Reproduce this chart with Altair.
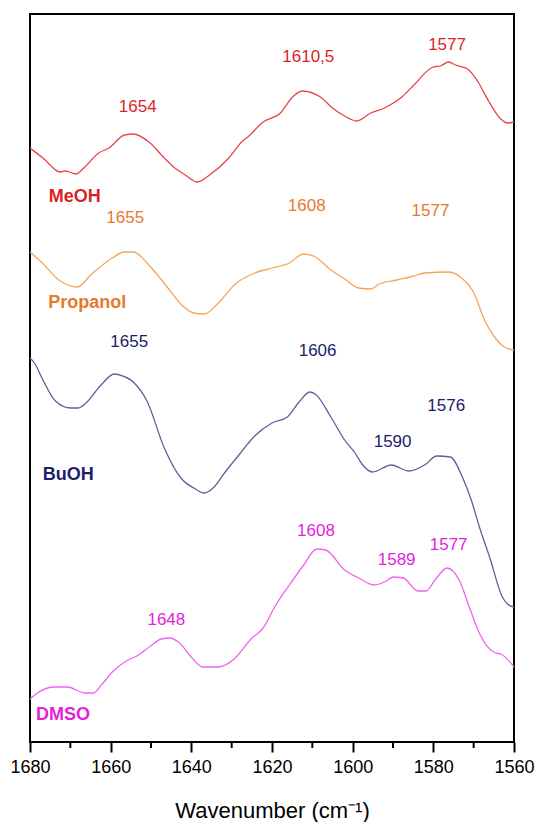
import altair as alt
import pandas as pd

# ---- data (wavenumber cm-1, intensity a.u. with offsets) ----
meoh_w = [1680, 1676.8, 1672.5, 1671.2, 1668.6, 1666.4, 1663.0, 1660.4, 1656.6, 1654.4,
          1650.5, 1646.7, 1644.1, 1641.5, 1638.5, 1635.5, 1630.7, 1627.3, 1626.0, 1622.2,
          1617.9, 1614.9, 1612.5, 1608.0, 1605.0, 1602.0, 1599.0, 1595.5, 1592.1, 1587.8,
          1584.8, 1580.0, 1578.3, 1576.2, 1574.5, 1571.5, 1568.9, 1566.3, 1563.3, 1561.6, 1560]
meoh_i = [5.94, 5.84, 5.70, 5.71, 5.68, 5.75, 5.89, 5.94, 6.07, 6.08,
          6.00, 5.84, 5.74, 5.67, 5.60, 5.67, 5.84, 6.01, 6.05, 6.20,
          6.29, 6.45, 6.51, 6.45, 6.34, 6.26, 6.21, 6.29, 6.34, 6.45,
          6.57, 6.75, 6.76, 6.80, 6.77, 6.73, 6.60, 6.41, 6.23, 6.19, 6.20]

prop_w = [1680, 1677.2, 1672.5, 1668.3, 1664.7, 1659.6, 1656.6, 1654.4, 1650.1, 1645.8,
          1642.4, 1639.4, 1636.8, 1633.3, 1629.1, 1624.3, 1620.0, 1615.7, 1612.3, 1609.7,
          1605.4, 1602.0, 1598.5, 1595.5, 1593.4, 1589.1, 1584.8, 1582.2, 1576.2, 1572.7,
          1570.2, 1567.2, 1565.0, 1562.4, 1560]
prop_i = [4.90, 4.80, 4.61, 4.55, 4.68, 4.84, 4.90, 4.90, 4.75, 4.54,
          4.37, 4.29, 4.28, 4.39, 4.58, 4.69, 4.74, 4.79, 4.88, 4.86,
          4.72, 4.63, 4.54, 4.53, 4.58, 4.62, 4.66, 4.69, 4.70, 4.63,
          4.51, 4.21, 4.06, 3.95, 3.92]

buoh_w = [1680, 1678.9, 1676.8, 1673.7, 1669.9, 1668.1, 1666.4, 1662.6, 1659.1, 1657.8,
          1654.4, 1651.0, 1646.7, 1642.4, 1639.4, 1636.8, 1634.6, 1631.6, 1628.2, 1624.3,
          1620.0, 1616.2, 1613.1, 1610.6, 1609.3, 1605.4, 1602.0, 1599.4, 1597.7, 1595.1,
          1590.4, 1586.1, 1581.8, 1579.2, 1575.8, 1572.7, 1570.6, 1568.5, 1565.9, 1562.9,
          1561.6, 1560]
buoh_i = [3.84, 3.79, 3.62, 3.41, 3.34, 3.34, 3.38, 3.56, 3.68, 3.67,
          3.60, 3.41, 2.94, 2.63, 2.54, 2.49, 2.54, 2.70, 2.87, 3.06,
          3.19, 3.25, 3.41, 3.50, 3.48, 3.25, 3.02, 2.89, 2.78, 2.70,
          2.77, 2.71, 2.78, 2.86, 2.85, 2.64, 2.42, 2.14, 1.83, 1.45,
          1.38, 1.35]

dmso_w = [1680, 1678.5, 1674.2, 1670.7, 1666.4, 1664.3, 1662.1, 1659.6, 1655.7, 1653.5,
          1650.1, 1647.5, 1645.4, 1643.2, 1639.8, 1637.2, 1633.3, 1629.1, 1625.2, 1622.2,
          1619.2, 1615.7, 1612.3, 1608.9, 1606.7, 1602.0, 1598.5, 1594.7, 1592.1, 1590.0,
          1587.4, 1583.9, 1581.8, 1579.6, 1576.6, 1573.6, 1571.0, 1568.5, 1564.6, 1563.3, 1560]
dmso_i = [0.43, 0.48, 0.55, 0.55, 0.49, 0.49, 0.58, 0.70, 0.82, 0.86,
          0.96, 1.03, 1.04, 1.00, 0.84, 0.75, 0.75, 0.84, 1.03, 1.14,
          1.36, 1.57, 1.76, 1.93, 1.92, 1.72, 1.64, 1.57, 1.60, 1.65,
          1.64, 1.51, 1.51, 1.62, 1.74, 1.62, 1.34, 1.08, 0.89, 0.88, 0.75]

series_names = ["MeOH", "Propanol", "BuOH", "DMSO"]
line_colors = ["#e8454a", "#f4a55a", "#5f5f9c", "#f062ee"]
label_colors = ["#dc1f26", "#e57a2c", "#1d1d6b", "#e21fd9"]

# peak annotations
peak_text = ["1654", "1610,5", "1577",
             "1655", "1608", "1577",
             "1655", "1606", "1590", "1576",
             "1608", "1589", "1577", "1648"]
peak_w = [1653.3, 1611.0, 1576.6,
          1656.4, 1611.4, 1580.7,
          1655.4, 1608.7, 1590.1, 1576.8,
          1609.1, 1589.1, 1576.2, 1646.2]
peak_i = [6.35, 6.85, 6.97,
          5.24, 5.36, 5.31,
          4.00, 3.91, 3.00, 3.36,
          2.11, 1.82, 1.97, 1.22]
peak_series = ["MeOH"] * 3 + ["Propanol"] * 3 + ["BuOH"] * 4 + ["DMSO"] * 4

# series name labels
name_w = [1668.9, 1665.8, 1670.5, 1671.8]
name_i = [5.45, 4.39, 2.67, 0.27]

major_ticks = [1680, 1660, 1640, 1620, 1600, 1580, 1560]
minor_ticks = [1670, 1650, 1630, 1610, 1590, 1570]

# ---- tables ----
rows = []
for name, ws, its in zip(series_names, [meoh_w, prop_w, buoh_w, dmso_w],
                         [meoh_i, prop_i, buoh_i, dmso_i]):
    for k, (w, v) in enumerate(zip(ws, its)):
        rows.append({"series": name, "wn": w, "val": v, "ord": k})
spec_df = pd.DataFrame(rows)

peak_df = pd.DataFrame({"series": peak_series, "wn": peak_w, "val": peak_i, "txt": peak_text})
name_df = pd.DataFrame({"series": series_names, "wn": name_w, "val": name_i, "txt": series_names})
minor_df = pd.DataFrame({"wn": minor_ticks})

xscale = alt.Scale(domain=[1680, 1560], nice=False, zero=False)
yscale = alt.Scale(domain=[0, 7.28], nice=False, zero=False)

xaxis = alt.Axis(
    values=major_ticks, format="d", title="Wavenumber (cm⁻¹)",
    domain=False, grid=False, tickSize=10, tickWidth=2, tickColor="black",
    labelFontSize=18, labelColor="black", labelPadding=6, labelFont="Liberation Sans",
    titleFontSize=22, titleFont="Liberation Sans", titleFontWeight="normal",
    titleColor="black", titlePadding=24, labelFlush=False,
)

lines = alt.Chart(spec_df).mark_line(strokeWidth=1.3, interpolate="monotone").encode(
    x=alt.X("wn:Q", scale=xscale, axis=xaxis),
    y=alt.Y("val:Q", scale=yscale, axis=None),
    color=alt.Color("series:N", scale=alt.Scale(domain=series_names, range=line_colors), legend=None),
    detail="series:N",
    order="ord:Q",
)

peaks = alt.Chart(peak_df).mark_text(fontSize=17, font="Liberation Sans", baseline="middle").encode(
    x=alt.X("wn:Q", scale=xscale),
    y=alt.Y("val:Q", scale=yscale),
    text="txt:N",
    color=alt.Color("series:N", scale=alt.Scale(domain=series_names, range=label_colors), legend=None),
)

names = alt.Chart(name_df).mark_text(fontSize=18, font="Liberation Sans", fontWeight="bold",
                                     baseline="middle").encode(
    x=alt.X("wn:Q", scale=xscale),
    y=alt.Y("val:Q", scale=yscale),
    text="txt:N",
    color=alt.Color("series:N", scale=alt.Scale(domain=series_names, range=label_colors), legend=None),
)

minor = alt.Chart(minor_df).mark_rule(color="black", strokeWidth=2, clip=False).encode(
    x=alt.X("wn:Q", scale=xscale),
    y=alt.value(728),
    y2=alt.value(734),
)

chart = alt.layer(lines, peaks, names, minor).resolve_scale(color="independent").properties(
    width=484, height=728,
    background="white",
    autosize=alt.AutoSizeParams(type="none"),
    padding={"left": 22, "top": 6, "right": 22, "bottom": 80},
).configure_view(stroke="black", strokeWidth=2)

chart.save("out.html", embed_options={"renderer": "svg", "actions": False})
